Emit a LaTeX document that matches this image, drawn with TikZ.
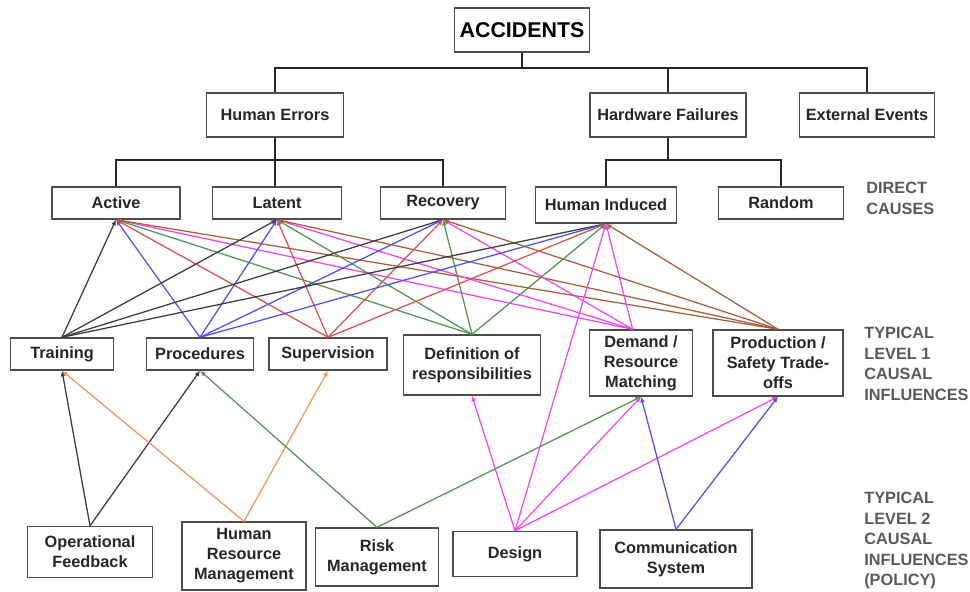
\documentclass[tikz,border=0pt]{standalone}
\usepackage{fontspec}
\setmainfont{Liberation Sans}
\usetikzlibrary{arrows.meta}
\definecolor{lkblack}{RGB}{60,60,60}
\definecolor{lkblue}{RGB}{80,80,240}
\definecolor{lkred}{RGB}{220,80,80}
\definecolor{lkgreen}{RGB}{80,150,80}
\definecolor{lkmagenta}{RGB}{240,70,240}
\definecolor{lkbrown}{RGB}{165,95,60}
\definecolor{lkorange}{RGB}{240,150,90}

\begin{document}
\begin{tikzpicture}[x=0.025cm,y=-0.025cm,
  box/.style={draw=black!70,line width=1pt,fill=white,align=center,inner sep=1pt,
    text=black!85,font=\bfseries\fontsize{11.6}{14.2}\selectfont},
  tree/.style={line width=1.4pt,black!85},
  link/.style={line width=0.9pt,-{Latex[length=4pt,width=3.5pt]}},
  level/.style={anchor=north west,align=left,inner sep=0pt,text=black!65,
    font=\bfseries\fontsize{11.6}{14.6}\selectfont}]
  \useasboundingbox (0,0) rectangle (970,591);

  \node[box,minimum width=3.375cm,minimum height=1.1cm,text=black,
    font=\bfseries\fontsize{15.2}{18}\selectfont] (acc) at (522,30) {ACCIDENTS};
  \node[box,minimum width=3.425cm,minimum height=1.1cm] (hum) at (275,115) {Human Errors};
  \node[box,minimum width=3.9cm,minimum height=1.1cm] (hw) at (668,115) {Hardware Failures};
  \node[box,minimum width=3.375cm,minimum height=1.1cm] (ext) at (867,115) {External Events};

  \node[box,minimum width=3.2cm,minimum height=0.8cm] (act) at (116,203) {Active};
  \node[box,minimum width=3.225cm,minimum height=0.8cm] (lat) at (277,203) {Latent};
  \node[box,minimum width=3.125cm,minimum height=0.8cm] (rec) at (443,203) {Recovery};
  \node[box,minimum width=3.525cm,minimum height=0.9cm] (hi) at (606,205) {Human Induced};
  \node[box,minimum width=3.125cm,minimum height=0.8cm] (rnd) at (781,203) {Random};

  \node[box,minimum width=2.575cm,minimum height=0.8cm] (tr) at (62,354) {Training};
  \node[box,minimum width=2.675cm,minimum height=0.8cm] (pr) at (200,354) {Procedures};
  \node[box,minimum width=2.95cm,minimum height=0.8cm] (sup) at (328,354) {Supervision};
  \node[box,minimum width=3.425cm,minimum height=1.5cm] (def) at (472,365) {Definition of\\responsibilities};
  \node[box,minimum width=2.575cm,minimum height=1.65cm] (dem) at (641,363) {Demand /\\Resource\\Matching};
  \node[box,minimum width=3.25cm,minimum height=1.65cm] (prod) at (778,363) {Production /\\Safety Trade-\\offs};

  \node[box,minimum width=3.125cm,minimum height=1.275cm] (opf) at (90,552) {Operational\\Feedback};
  \node[box,minimum width=3.1cm,minimum height=1.7cm] (hrm) at (244,556) {Human\\Resource\\Management};
  \node[box,minimum width=3.075cm,minimum height=1.45cm] (risk) at (377,557) {Risk\\Management};
  \node[box,minimum width=3.1cm,minimum height=1.125cm] (des) at (515,554) {Design};
  \node[box,minimum width=3.8cm,minimum height=1.45cm] (com) at (676,559) {Communication\\System};

  \node[level] (lv0) at (866,182) {DIRECT\\CAUSES};
  \node[level] (lv1) at (864,327) {TYPICAL\\LEVEL 1\\CAUSAL\\INFLUENCES};
  \node[level] (lv2) at (864,492) {TYPICAL\\LEVEL 2\\CAUSAL\\INFLUENCES\\(POLICY)};

  \coordinate (b1) at (522,68);
  \coordinate (b2) at (275,160);
  \coordinate (b3) at (668,160);
  \draw[tree] (acc.south) -- (b1);
  \draw[tree] (hum.north) |- (b1) -| (ext.north);
  \draw[tree] (hw.north) -- (hw.north |- b1);
  \draw[tree] (hum.south) -- (b2);
  \draw[tree] (act.north) |- (b2) -| (rec.north);
  \draw[tree] (b2) -- (b2 |- lat.north);
  \draw[tree] (hw.south) -- (b3);
  \draw[tree] (hi.north) |- (b3) -| (rnd.north);

  \foreach \c in {act,lat,rec,hi} {
    \draw[link,lkblack] (tr.north) -- (\c.south);
    \draw[link,lkblue] (pr.north) -- (\c.south);
    \draw[link,lkred] (sup.north) -- (\c.south);
    \draw[link,lkgreen] (def.north) -- (\c.south);
    \draw[link,lkmagenta] ([xshift=-6pt]dem.north) -- (\c.south);
    \draw[link,lkbrown] (prod.north) -- (\c.south);
  }

  \draw[link,lkblack] (opf.north) -- (tr.south);
  \draw[link,lkblack] (opf.north) -- (pr.south);
  \draw[link,lkorange] (hrm.north) -- (tr.south);
  \draw[link,lkorange] (hrm.north) -- (sup.south);
  \draw[link,lkgreen] (risk.north) -- (pr.south);
  \draw[link,lkgreen] (risk.north) -- (dem.south);
  \draw[link,lkmagenta] (des.north) -- (def.south);
  \draw[link,lkmagenta] (des.north) -- (hi.south);
  \draw[link,lkmagenta] (des.north) -- (dem.south);
  \draw[link,lkmagenta] (des.north) -- (prod.south);
  \draw[link,lkblue] (com.north) -- (dem.south);
  \draw[link,lkblue] (com.north) -- (prod.south);
\end{tikzpicture}
\end{document}
